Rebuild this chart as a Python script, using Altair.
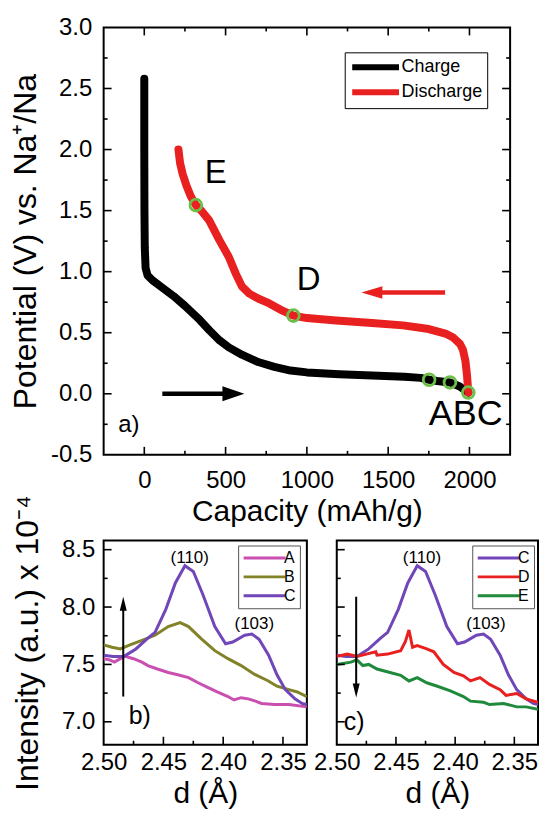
import altair as alt
import pandas as pd

FONT = "Liberation Sans"

# ---------------- top panel data ----------------
charge_cap = [0, 0, 1, 3, 8, 20, 50, 100, 180, 250, 330, 400, 460, 520, 600, 700, 800,
              900, 1000, 1200, 1400, 1600, 1700, 1752, 1800, 1880, 1940, 1993]
charge_v = [2.58, 2.0, 1.5, 1.2, 1.03, 0.97, 0.93, 0.88, 0.80, 0.72, 0.62, 0.52, 0.44, 0.38,
            0.32, 0.26, 0.22, 0.19, 0.175, 0.16, 0.15, 0.14, 0.13, 0.115, 0.105, 0.093, 0.06, 0.01]
dis_cap = [1993, 1985, 1975, 1960, 1941, 1900, 1858, 1750, 1592, 1400, 1180, 1000, 917, 850,
           769, 700, 646, 600, 564, 520, 461, 399, 350, 317, 285, 258, 236, 220, 210]
dis_v = [0.01, 0.15, 0.27, 0.36, 0.41, 0.46, 0.49, 0.53, 0.56, 0.58, 0.60, 0.62, 0.64, 0.68,
         0.74, 0.78, 0.82, 0.88, 0.98, 1.12, 1.26, 1.42, 1.50, 1.545, 1.62, 1.71, 1.80, 1.89, 2.0]
point_names = ["A", "B", "C", "D", "E"]
point_cap = [1752, 1880, 1993, 917, 317]
point_v = [0.115, 0.093, 0.01, 0.64, 1.545]

top_letters = ["E", "D"]
top_letters_cap = [440, 1010]
top_letters_v = [1.81, 0.93]
abc_text = ["ABC"]
abc_cap = [1750]
abc_v = [-0.17]
panel_a = ["a)"]
panel_a_cap = [-160]
panel_a_v = [-0.26]

black_arrow_cap = [111, 560]
black_arrow_head = [548]
red_arrow_cap = [1850, 1400]
red_arrow_head = [1400]
black_arrow_v = 0.0
red_arrow_v = 0.83

top_x_labels = [0, 500, 1000, 1500, 2000]
top_x_major = [0, 500, 1000, 1500, 2000]
top_x_minor = [250, 750, 1250, 1750]
top_y_labels = [-0.5, 0, 0.5, 1.0, 1.5, 2.0, 2.5, 3.0]
top_y_major = [0, 0.5, 1.0, 1.5, 2.0, 2.5]
top_y_minor = [-0.25, 0.25, 0.75, 1.25, 1.75, 2.25, 2.75]

# ---------------- bottom panels data ----------------
d_A = [2.50, 2.495, 2.491, 2.486, 2.482, 2.475, 2.468, 2.463, 2.455, 2.446, 2.438, 2.429,
       2.421, 2.413, 2.405, 2.396, 2.391, 2.385, 2.379, 2.373, 2.368, 2.357, 2.345, 2.33]
I_A = [7.55, 7.54, 7.52, 7.55, 7.57, 7.55, 7.52, 7.49, 7.46, 7.43, 7.41, 7.385, 7.34, 7.30,
       7.26, 7.22, 7.19, 7.21, 7.20, 7.18, 7.16, 7.15, 7.15, 7.13]
d_B = [2.50, 2.493, 2.486, 2.479, 2.468, 2.457, 2.446, 2.436, 2.429, 2.418, 2.407, 2.396,
       2.385, 2.374, 2.363, 2.355, 2.345, 2.338, 2.33]
I_B = [7.67, 7.65, 7.635, 7.665, 7.71, 7.754, 7.83, 7.865, 7.83, 7.72, 7.62, 7.55, 7.49,
       7.415, 7.36, 7.31, 7.28, 7.26, 7.22]
d_C = [2.50, 2.492, 2.483, 2.473, 2.463, 2.457, 2.448, 2.440, 2.432, 2.425, 2.417, 2.407,
       2.398, 2.392, 2.382, 2.376, 2.370, 2.362, 2.355, 2.348, 2.340, 2.334, 2.33]
I_C = [7.58, 7.57, 7.57, 7.635, 7.73, 7.78, 7.98, 8.21, 8.36, 8.31, 8.11, 7.83, 7.68, 7.695,
       7.754, 7.765, 7.72, 7.58, 7.41, 7.28, 7.20, 7.16, 7.15]
d_D = [2.50, 2.491, 2.483, 2.475, 2.467, 2.466, 2.457, 2.446, 2.442, 2.439, 2.436, 2.432,
       2.424, 2.418, 2.410, 2.401, 2.393, 2.387, 2.379, 2.371, 2.362, 2.357, 2.348, 2.340, 2.33]
I_D = [7.57, 7.59, 7.57, 7.59, 7.61, 7.58, 7.59, 7.62, 7.70, 7.80, 7.65, 7.665, 7.635, 7.61,
       7.50, 7.43, 7.40, 7.356, 7.385, 7.326, 7.28, 7.23, 7.246, 7.20, 7.17]
d_E = [2.50, 2.488, 2.483, 2.478, 2.473, 2.466, 2.455, 2.446, 2.439, 2.432, 2.424, 2.415,
       2.404, 2.393, 2.387, 2.376, 2.371, 2.359, 2.348, 2.340, 2.33]
I_E = [7.50, 7.52, 7.54, 7.49, 7.50, 7.46, 7.43, 7.405, 7.356, 7.385, 7.34, 7.31, 7.27, 7.22,
       7.18, 7.17, 7.15, 7.16, 7.13, 7.13, 7.11]

series_colors = {"A": "#c94fb0", "B": "#828228", "C": "#7046b8", "D": "#e8201f", "E": "#1f8a3c"}

peak_text = ["(110)", "(103)"]
peak_d = [2.428, 2.374]
peak_I = [8.43, 7.85]
panel_b = ["b)"]
panel_c = ["c)"]
panel_b_d, panel_b_I = [2.479], [7.05]
panel_c_d, panel_c_I = [2.494], [7.0]
arrow_b_d = 2.4836
arrow_b_I = [7.22, 8.03]
arrow_b_head = [8.028]
arrow_c_I = [8.09, 7.28]
arrow_c_head = [7.272]

bot_x_labels = [2.50, 2.45, 2.40, 2.35]
bot_x_major = [2.45, 2.40, 2.35]
bot_x_minor = [2.475, 2.425, 2.375]
bot_y_labels = [7.0, 7.5, 8.0, 8.5]
bot_y_major = [7.0, 7.5, 8.0, 8.5]
bot_y_minor = [7.25, 7.75, 8.25]

TOP_W, TOP_H = 408, 429
BOT_W, BOT_W2, BOT_H = 204, 202, 205
MAJ, MIN = 8, 4

# ---------------- encodings ----------------
def x_top():
    return alt.X("cap:Q", scale=alt.Scale(domain=[-250, 2250], nice=False, zero=False),
                 axis=alt.Axis(values=top_x_labels, format="d", ticks=False, domain=False, grid=False,
                               labelFlush=False, labelOverlap=False,
                               labelFontSize=24, labelPadding=14, title="Capacity (mAh/g)",
                               titleFontSize=30, titlePadding=4))

def y_top():
    return alt.Y("v:Q", scale=alt.Scale(domain=[-0.5, 3.0], nice=False, zero=False),
                 axis=alt.Axis(values=top_y_labels, ticks=False, domain=False, grid=False,
                               labelFlush=False, labelOverlap=False,
                               labelExpr="datum.value < 0 ? '-' + format(-datum.value, '.1f') : format(datum.value, '.1f')",
                               labelFontSize=24, labelPadding=12, title="Potential (V) vs. Na⁺/Na",
                               titleFontSize=32, titlePadding=8))

def x_bot():
    return alt.X("d:Q", scale=alt.Scale(domain=[2.33, 2.50], reverse=True, nice=False, zero=False),
                 axis=alt.Axis(values=bot_x_labels, format=".2f", ticks=False, domain=False, grid=False,
                               labelFlush=False, labelOverlap=False,
                               labelFontSize=24, labelPadding=6, title="d (Å)",
                               titleFontSize=30, titlePadding=4))

def y_bot(show=True):
    sc = alt.Scale(domain=[6.8, 8.58], nice=False, zero=False)
    if not show:
        return alt.Y("I:Q", scale=sc, axis=None)
    return alt.Y("I:Q", scale=sc,
                 axis=alt.Axis(values=bot_y_labels, format=".1f", ticks=False, domain=False, grid=False,
                               labelFlush=False, labelOverlap=False,
                               labelFontSize=24, labelPadding=9, title="Intensity (a.u.) x 10⁻⁴",
                               titleFontSize=32, titlePadding=17))


def tick_layers(xfield, yfield, xmaj, xmin, ymaj, ymin, w, h, xenc, yenc, mirror):
    layers = []
    for vals, ln in ((xmaj, MAJ), (xmin, MIN)):
        df = pd.DataFrame({xfield: vals})
        layers.append(alt.Chart(df).mark_rule(color="black", strokeWidth=1.6).encode(
            x=xenc(), y=alt.value(h), y2=alt.value(h - ln)))
        if mirror:
            layers.append(alt.Chart(df).mark_rule(color="black", strokeWidth=1.6).encode(
                x=xenc(), y=alt.value(0), y2=alt.value(ln)))
    for vals, ln in ((ymaj, MAJ), (ymin, MIN)):
        df = pd.DataFrame({yfield: vals})
        layers.append(alt.Chart(df).mark_rule(color="black", strokeWidth=1.6).encode(
            y=yenc(), x=alt.value(0), x2=alt.value(ln)))
        if mirror:
            layers.append(alt.Chart(df).mark_rule(color="black", strokeWidth=1.6).encode(
                y=yenc(), x=alt.value(w), x2=alt.value(w - ln)))
    return layers


# ---------------- top chart ----------------
curves = pd.DataFrame({
    "cap": charge_cap + dis_cap,
    "v": charge_v + dis_v,
    "series": ["Charge"] * len(charge_cap) + ["Discharge"] * len(dis_cap),
    "idx": list(range(len(charge_cap) + len(dis_cap))),
})

top_line = alt.Chart(curves).mark_line(strokeWidth=8, strokeCap="round", strokeJoin="round").encode(
    x=x_top(), y=y_top(),
    color=alt.Color("series:N", scale=alt.Scale(domain=["Charge", "Discharge"], range=["black", "#e8201f"]),
                    legend=alt.Legend(orient="none", legendX=242, legendY=25, title=None,
                                      symbolType="M-3,0H3", symbolSize=245, symbolStrokeWidth=6,
                                      symbolOffset=16, labelOffset=15, labelFontSize=18, labelFont=FONT,
                                      strokeColor="black", fillColor="white", padding=4, rowPadding=1,
                                      labelColor="black")),
    order="idx:Q")

pts = pd.DataFrame({"cap": point_cap, "v": point_v, "name": point_names})
top_pts = alt.Chart(pts).mark_point(shape="circle", filled=False, color="#6cc04a", strokeWidth=2.8,
                                    size=140, opacity=1).encode(x=x_top(), y=y_top())

letters = pd.DataFrame({"cap": top_letters_cap, "v": top_letters_v, "t": top_letters})
top_letters_l = alt.Chart(letters).mark_text(font=FONT, fontSize=33, color="black").encode(
    x=x_top(), y=y_top(), text="t:N")
abc = pd.DataFrame({"cap": abc_cap, "v": abc_v, "t": abc_text})
abc_l = alt.Chart(abc).mark_text(font=FONT, fontSize=36, color="black", align="left").encode(
    x=x_top(), y=y_top(), text="t:N")
pa = pd.DataFrame({"cap": panel_a_cap, "v": panel_a_v, "t": panel_a})
pa_l = alt.Chart(pa).mark_text(font=FONT, fontSize=24, color="black", align="left").encode(
    x=x_top(), y=y_top(), text="t:N")

barrow = pd.DataFrame({"cap": [black_arrow_cap[0]], "cap2": [black_arrow_cap[1]], "v": [black_arrow_v]})
barrow_l = alt.Chart(barrow).mark_rule(color="black", strokeWidth=4.5).encode(x=x_top(), x2="cap2:Q", y=y_top())
bhead = pd.DataFrame({"cap": black_arrow_head, "v": [black_arrow_v]})
bhead_l = alt.Chart(bhead).mark_point(shape="M1,0L-1,0.68L-1,-0.68Z", filled=True, color="black", size=484,
                                      opacity=1).encode(x=x_top(), y=y_top())
rarrow = pd.DataFrame({"cap": [red_arrow_cap[0]], "cap2": [red_arrow_cap[1]], "v": [red_arrow_v]})
rarrow_l = alt.Chart(rarrow).mark_rule(color="#e8201f", strokeWidth=4.5).encode(x=x_top(), x2="cap2:Q", y=y_top())
rhead = pd.DataFrame({"cap": red_arrow_head, "v": [red_arrow_v]})
rhead_l = alt.Chart(rhead).mark_point(shape="M-1,0L1,0.6L1,-0.6Z", filled=True, color="#e8201f", size=441,
                                      opacity=1).encode(x=x_top(), y=y_top())

top = alt.layer(
    top_line, top_pts, top_letters_l, abc_l, pa_l, barrow_l, bhead_l, rarrow_l, rhead_l,
    *tick_layers("cap", "v", top_x_major, top_x_minor, top_y_major, top_y_minor, TOP_W, TOP_H,
                 x_top, y_top, True)
).properties(width=TOP_W, height=TOP_H)


# ---------------- bottom charts ----------------
def long_df(names, ds, Is):
    rows = []
    k = 0
    for n, dd, ii in zip(names, ds, Is):
        for a, b in zip(dd, ii):
            rows.append({"d": a, "I": b, "s": n, "idx": k})
            k += 1
    return pd.DataFrame(rows)


def bottom_panel(names, ds, Is, show_y, label_df, arrow_I, head_I, head_shape, lx, w):
    df = long_df(names, ds, Is)
    yenc = (lambda: y_bot(show_y))
    line = alt.Chart(df).mark_line(strokeWidth=3, clip=True).encode(
        x=x_bot(), y=yenc(),
        color=alt.Color("s:N", scale=alt.Scale(domain=names, range=[series_colors[n] for n in names]),
                        legend=alt.Legend(orient="none", legendX=lx, legendY=5, title=None,
                                          symbolType="M-3,0H3", symbolSize=196, symbolStrokeWidth=3,
                                          symbolOffset=14, labelOffset=11, labelFontSize=16,
                                          labelFont=FONT, strokeColor="#555555", fillColor="white",
                                          padding=4, rowPadding=2, labelColor="black")),
        order="idx:Q")
    pk = pd.DataFrame({"d": peak_d, "I": peak_I, "t": peak_text})
    pk_l = alt.Chart(pk).mark_text(font=FONT, fontSize=17, color="black").encode(x=x_bot(), y=yenc(), text="t:N")
    pl_l = alt.Chart(label_df).mark_text(font=FONT, fontSize=25, color="black", align="left").encode(
        x=x_bot(), y=yenc(), text="t:N")
    ar = pd.DataFrame({"d": [arrow_b_d], "I": [arrow_I[0]], "I2": [arrow_I[1]]})
    ar_l = alt.Chart(ar).mark_rule(color="black", strokeWidth=2).encode(x=x_bot(), y=yenc(), y2="I2:Q")
    hd = pd.DataFrame({"d": [arrow_b_d], "I": head_I})
    hd_l = alt.Chart(hd).mark_point(shape=head_shape, filled=True, color="black", size=196, opacity=1).encode(
        x=x_bot(), y=yenc())
    ticks = tick_layers("d", "I", bot_x_major, bot_x_minor, bot_y_major, bot_y_minor, w, BOT_H,
                        x_bot, yenc, False)
    return alt.layer(line, pk_l, pl_l, ar_l, hd_l, *ticks).properties(width=w, height=BOT_H)


lab_b = pd.DataFrame({"d": panel_b_d, "I": panel_b_I, "t": panel_b})
lab_c = pd.DataFrame({"d": panel_c_d, "I": panel_c_I, "t": panel_c})

left = bottom_panel(["A", "B", "C"], [d_A, d_B, d_C], [I_A, I_B, I_C], True, lab_b,
                    arrow_b_I, arrow_b_head, "M0,-1L0.5,1L-0.5,1Z", 135, BOT_W)
right = bottom_panel(["C", "D", "E"], [d_C, d_D, d_E], [I_C, I_D, I_E], False, lab_c,
                     arrow_c_I, arrow_c_head, "M0,1L0.5,-1L-0.5,-1Z", 136, BOT_W2)

bottom = alt.hconcat(left, right, spacing=30, bounds="flush").resolve_scale(color="independent")

chart = alt.vconcat(top, bottom, spacing=86, bounds="flush").resolve_scale(color="independent").properties(
    padding={"left": 0, "top": 5, "right": 0, "bottom": 0}
).configure_view(stroke="black", strokeWidth=2).configure_axis(
    labelFont=FONT, titleFont=FONT, labelColor="black", titleColor="black", titleFontWeight="normal"
).configure_text(font=FONT)

chart.save("out.html", embed_options={"renderer": "svg", "actions": False})
